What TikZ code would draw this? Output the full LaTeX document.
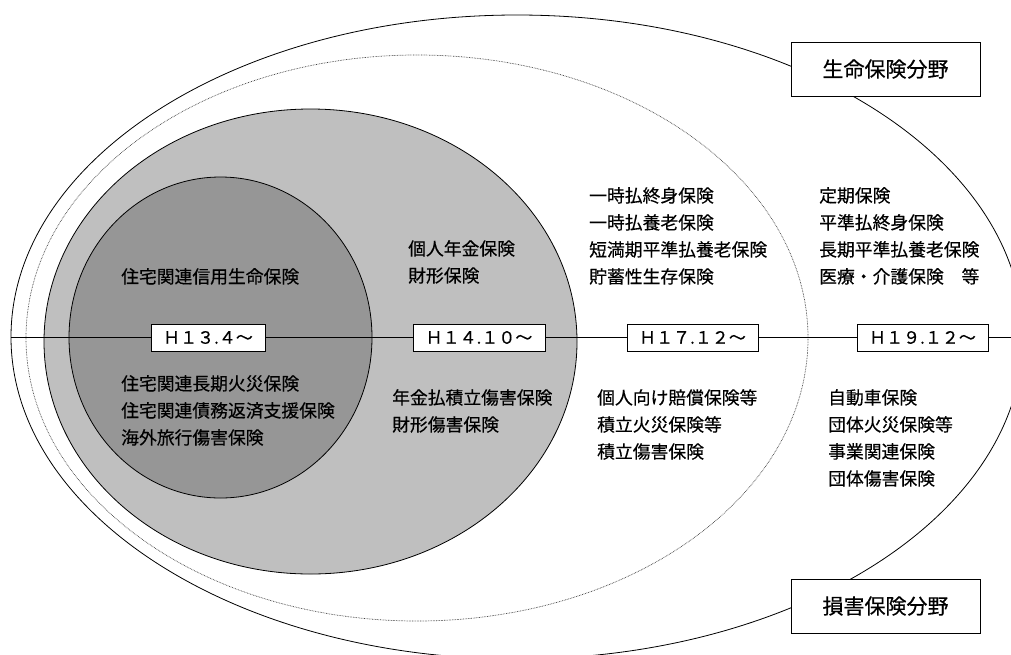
\documentclass[tikz,border=0pt]{standalone}
\usepackage{fontspec}
\setmainfont{Noto Sans CJK JP}[FakeBold=0.35]
\definecolor{lightfill}{RGB}{191,191,191}
\definecolor{darkfill}{RGB}{150,150,150}
\begin{document}
\begin{tikzpicture}[x=1pt,y=-1pt,
  line/.style={draw=black,line width=0.8pt},
  dotline/.style={draw=black!75,line width=0.7pt,dash pattern=on 0.7pt off 0.9pt},
  txt/.style={inner sep=0pt,anchor=north west,align=left,font=\fontsize{17.8}{27}\selectfont},
  datebox/.style={draw=black,line width=0.8pt,fill=white,minimum height=27pt,inner sep=0pt,font=\fontsize{17}{17}\selectfont},
  fieldbox/.style={draw=black,line width=0.8pt,fill=white,minimum width=189pt,minimum height=54pt,inner sep=0pt,font=\fontsize{21}{21}\selectfont}]
\useasboundingbox (0,0) rectangle (1011,654);
\clip (0,0) rectangle (1011,654);
\fill[white] (0,0) rectangle (1011,654);
% ellipses
\draw[line] (517,337) ellipse [x radius=506pt, y radius=322pt];
\draw[dotline] (417,338) ellipse [x radius=391pt, y radius=283pt];
\filldraw[line, fill=lightfill] (310.5,341.5) ellipse [x radius=266.5pt, y radius=232.5pt];
\filldraw[line, fill=darkfill] (220.5,337.5) ellipse [x radius=151.5pt, y radius=160.5pt];
% time axis
\coordinate (L) at (11,337.5);
\coordinate (R) at (1011,337.5);
\draw[line] (L) -- (R);
\node[datebox, minimum width=114pt] (d1) at (208,337.5) {Ｈ１３.４～};
\node[datebox, minimum width=132pt] (d2) at (479,337.5) {Ｈ１４.１０～};
\node[datebox, minimum width=131pt] (d3) at (692.5,337.5) {Ｈ１７.１２～};
\node[datebox, minimum width=131pt] (d4) at (922.5,337.5) {Ｈ１９.１２～};
% field labels
\node[fieldbox] (life) at (885.5,69) {生命保険分野};
\node[fieldbox] (nonlife) at (885.5,606) {損害保険分野};
% texts
\node[txt] (t1) at (121,268) {住宅関連信用生命保険};
\node[txt] (t2) at (121,375) {住宅関連長期火災保険\\住宅関連債務返済支援保険\\海外旅行傷害保険};
\node[txt] (t3) at (408,240) {個人年金保険\\財形保険};
\node[txt] (t4) at (392,389) {年金払積立傷害保険\\財形傷害保険};
\node[txt] (t5) at (589,187) {一時払終身保険\\一時払養老保険\\短満期平準払養老保険\\貯蓄性生存保険};
\node[txt] (t6) at (819,187) {定期保険\\平準払終身保険\\長期平準払養老保険\\医療・介護保険　等};
\node[txt] (t7) at (597,389) {個人向け賠償保険等\\積立火災保険等\\積立傷害保険};
\node[txt] (t8) at (828,389) {自動車保険\\団体火災保険等\\事業関連保険\\団体傷害保険};
\end{tikzpicture}
\end{document}
